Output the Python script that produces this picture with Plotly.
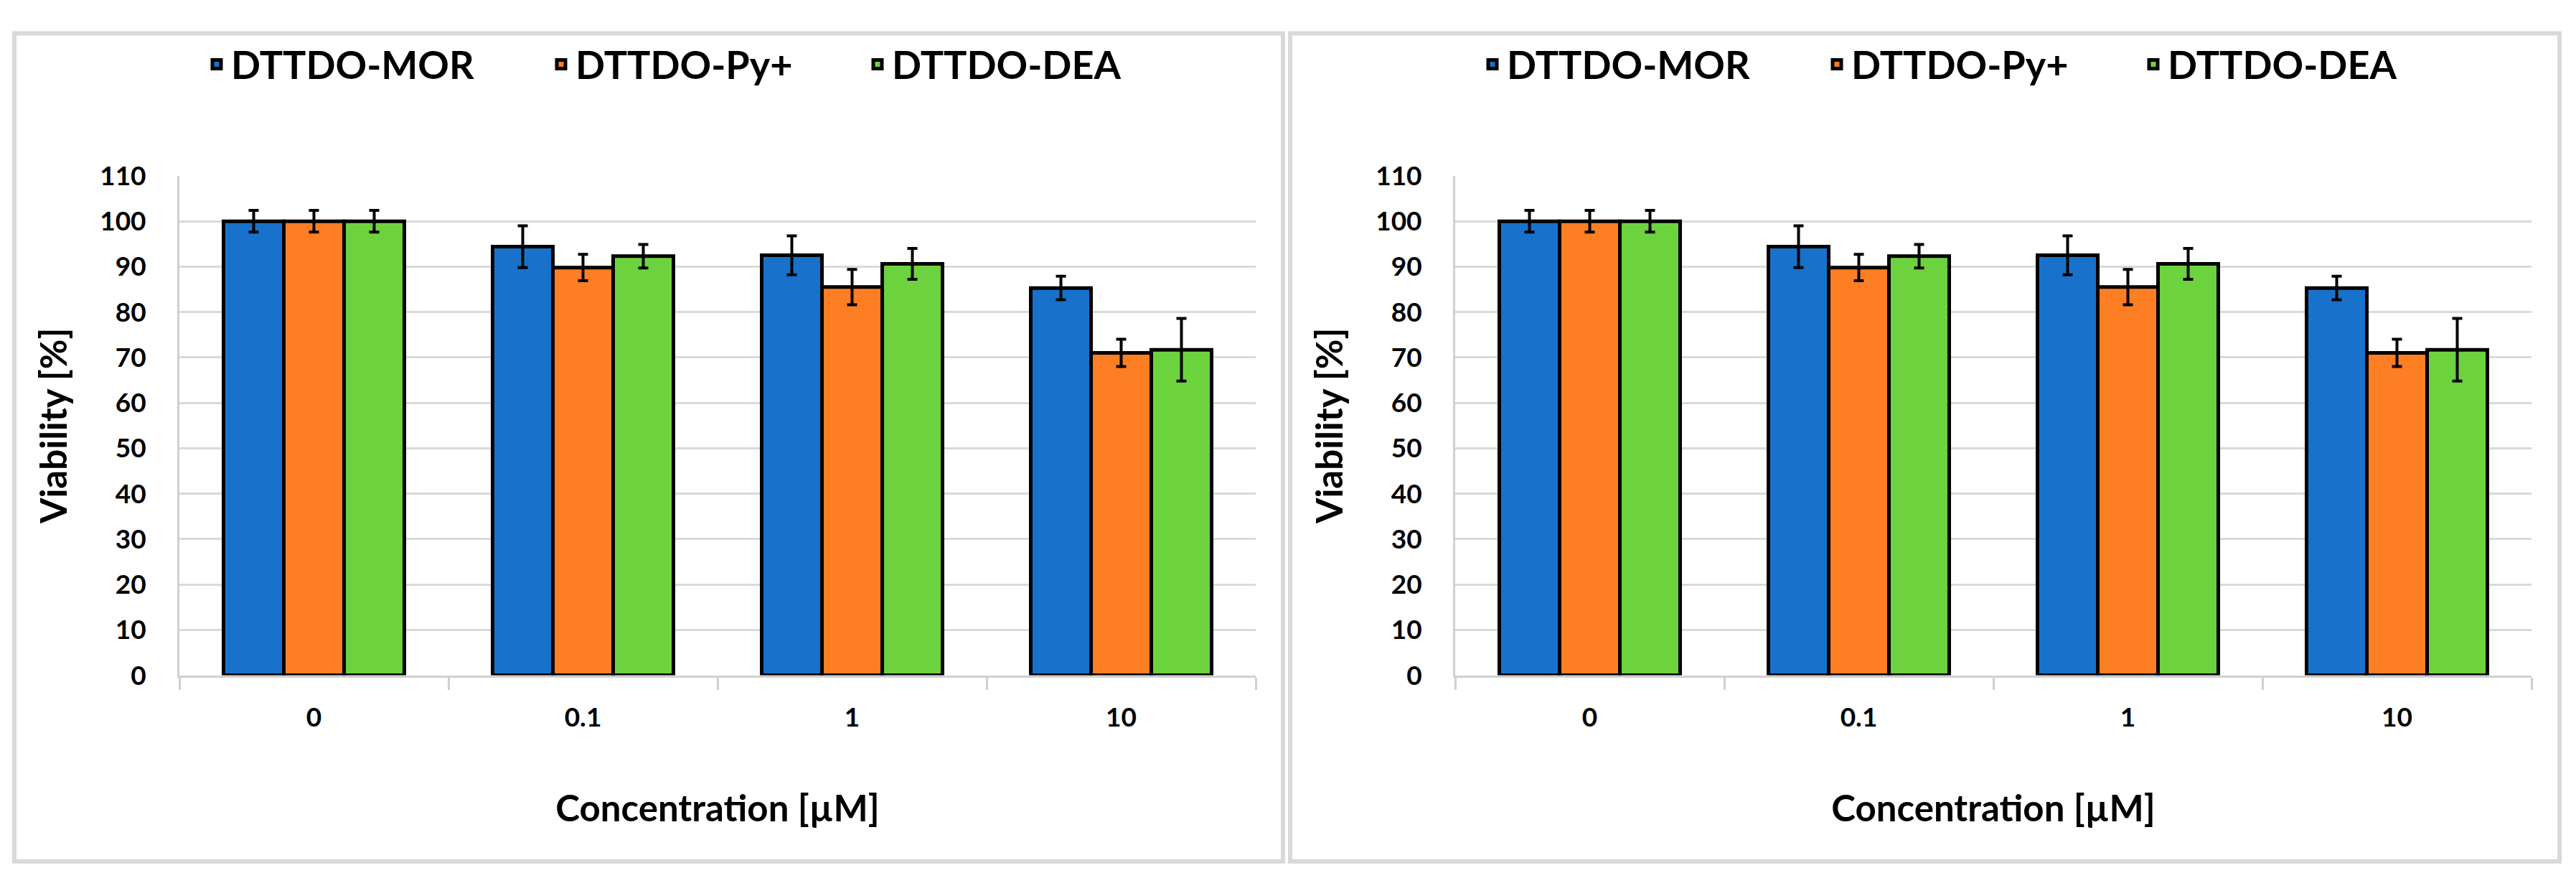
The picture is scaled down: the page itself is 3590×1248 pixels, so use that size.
import plotly.graph_objects as go

# ---------------- data ----------------
concentrations = ["0", "0.1", "1", "10"]
series_names = ["DTTDO-MOR", "DTTDO-Py+", "DTTDO-DEA"]
mor_viability = [100, 94.4, 92.5, 85.3]
mor_error = [2.4, 4.6, 4.3, 2.6]
py_viability = [100, 89.8, 85.5, 71.0]
py_error = [2.4, 2.9, 3.9, 3.0]
dea_viability = [100, 92.3, 90.6, 71.7]
dea_error = [2.4, 2.6, 3.4, 6.9]
y_ticks = list(range(0, 111, 10))
x_title = "Concentration [µM]"
y_title = "Viability [%]"

# ---------------- styles ----------------
colors = ["#1872CB", "#FE7E23", "#6CD33F"]
legend_widths = [435, 396, 330]
FONT = "Lato"
W, H = 3574, 1232          # figure size (page has an 8px body margin)
OFF = 8


def fx(px):
    return (px - OFF) / W


def fy(py):
    return 1 - (py - OFF) / H


values = [mor_viability, py_viability, dea_viability]
errors = [mor_error, py_error, dea_error]

fig = go.Figure()
panels = [("x", "y", "legend"), ("x2", "y2", "legend2")]
for xa, ya, lg in panels:
    for name, vals, errs, col, lw in zip(series_names, values, errors, colors, legend_widths):
        fig.add_trace(go.Bar(
            x=concentrations, y=vals, name=name,
            xaxis=xa, yaxis=ya, legend=lg, legendwidth=lw,
            marker=dict(color=col, line=dict(color="black", width=5)),
            error_y=dict(type="data", array=errs, visible=True,
                         color="black", thickness=4, width=7),
        ))

panel_x = [(20, 1788), (1798, 3567)]
plot_x = [(250, 1750), (2028, 3528)]
plot_top, plot_bot = 229, 951

tick_font = dict(family=FONT, size=37, color="black", weight="bold")
title_font = dict(family=FONT, size=51, color="black", weight="bold")

axis_common_x = dict(
    type="category", categoryorder="array", categoryarray=concentrations,
    showline=True, linecolor="#d0d0d0", linewidth=3,
    ticks="outside", tickson="boundaries", ticklen=17, tickwidth=3, tickcolor="#d0d0d0",
    showgrid=False, tickfont=tick_font, ticklabelstandoff=24,
    title=dict(text=x_title, font=title_font, standoff=90),
)
axis_common_y = dict(
    range=[0, 110], tickvals=y_ticks, showline=True, linecolor="#d0d0d0", linewidth=3,
    showgrid=True, gridcolor="#d9d9d9", gridwidth=3, zeroline=False,
    ticks="", tickfont=tick_font, ticklabelstandoff=36,
    title=dict(text=y_title, font=title_font, standoff=30),
)

layout = dict(
    width=W, height=H,
    margin=dict(l=0, r=0, t=0, b=0),
    paper_bgcolor="white", plot_bgcolor="white",
    barmode="group", bargap=0.328, bargroupgap=0,
    showlegend=True,
    font=dict(family=FONT, color="black"),
)
for i, (xa, ya, lg) in enumerate(panels):
    xk = "xaxis" if i == 0 else "xaxis2"
    yk = "yaxis" if i == 0 else "yaxis2"
    layout[xk] = dict(axis_common_x, domain=[fx(plot_x[i][0]), fx(plot_x[i][1])], anchor=ya)
    layout[yk] = dict(axis_common_y, domain=[fy(plot_bot), fy(plot_top)], anchor=xa)
    layout[lg] = dict(
        orientation="h", x=fx(panel_x[i][0] + 262), y=fy(68),
        xanchor="left", yanchor="middle", xref="paper", yref="paper",
        font=dict(family=FONT, size=54, color="black", weight="bold"),
        bgcolor="rgba(0,0,0,0)", itemwidth=30, traceorder="normal",
    )

shapes = []
for x0, x1 in panel_x:
    shapes.append(dict(type="rect", xref="paper", yref="paper",
                       x0=fx(x0), x1=fx(x1), y0=fy(1220), y1=fy(23),
                       line=dict(color="#d9d9d9", width=6), fillcolor="rgba(0,0,0,0)",
                       layer="below"))
layout["shapes"] = shapes

fig.update_layout(**layout)
fig.write_html("out.html")
